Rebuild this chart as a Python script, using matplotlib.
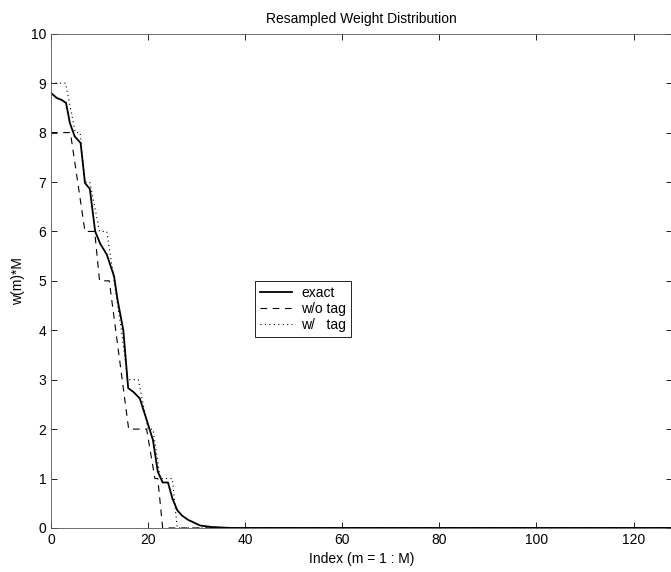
import matplotlib

matplotlib.use("Agg")
import matplotlib.pyplot as plt

plt.rcParams["font.family"] = ["Liberation Sans", "DejaVu Sans"]

M = 128

# exact weights * M (vertices)
exact_x = [0, 1.2, 2.2, 3.1, 3.9, 4.9, 6.1, 7.0, 8.0, 9.1, 10.1, 11.5, 13.0, 13.7,
           14.9, 15.9, 17.0, 18.3, 19.5, 21.0, 22.0, 23.0, 24.1, 25.0, 26.0, 27.0,
           28.3, 29.0, 30.7, 33.0, 37.0, M]
exact_y = [8.8, 8.70, 8.66, 8.60, 8.19, 7.92, 7.79, 6.98, 6.86, 6.0, 5.76, 5.53, 5.09, 4.62,
           4.0, 2.83, 2.75, 2.62, 2.25, 1.78, 1.14, 0.92, 0.92, 0.6, 0.36, 0.25,
           0.16, 0.13, 0.05, 0.02, 0.0, 0.0]

# resampled counts without tag
notag_x = [0, 4, 7, 9, 10, 12, 16, 19.7, 21.4, 22, 23, M]
notag_y = [8, 8, 6, 6, 5, 5, 2, 2, 1, 1, 0, 0]

# resampled counts with tag
tag_x = [0, 3, 5, 6, 7, 8, 10, 11.5, 13, 14.5, 15.8, 18, 20, 21, 22.5, 25, 26, M]
tag_y = [9, 9, 8, 8, 7, 7, 6, 6, 5, 4, 3, 3, 2, 2, 1, 1, 0, 0]

fig = plt.figure(figsize=(6.71, 5.72), dpi=100)
ax = fig.add_axes([0.076, 0.077, 0.926, 0.864])

ax.plot(exact_x, exact_y, color="black", lw=1.3, ls="-", label="exact")
ax.plot(notag_x, notag_y, color="black", lw=0.8, ls=(0, (6, 5)), label="w/o tag")
ax.plot(tag_x, tag_y, color="black", lw=0.8, ls=(0, (1, 3)), label="w/   tag")

ax.set_xlim(0, M)
ax.set_ylim(0, 10)
ax.set_xticks(range(0, 121, 20))
ax.set_yticks(range(0, 11))
ax.tick_params(direction="in", top=True, right=True, length=4, labelsize=10, width=0.6)
for s in ax.spines.values():
    s.set_linewidth(0.6)
    s.set_color("#555555")

ax.set_xlabel("Index (m = 1 : M)", fontsize=10)
ax.set_ylabel("w(m)*M", fontsize=10)
ax.set_title("Resampled Weight Distribution", fontsize=10, pad=8)

leg = ax.legend(loc="upper left", bbox_to_anchor=(0.328, 0.5), fontsize=10,
                fancybox=False, framealpha=1, edgecolor="black",
                handlelength=2.3, borderpad=0.35, labelspacing=0.15, handletextpad=0.7,
                borderaxespad=0)
leg.get_frame().set_linewidth(0.6)

fig.savefig("out.png", dpi=100)
